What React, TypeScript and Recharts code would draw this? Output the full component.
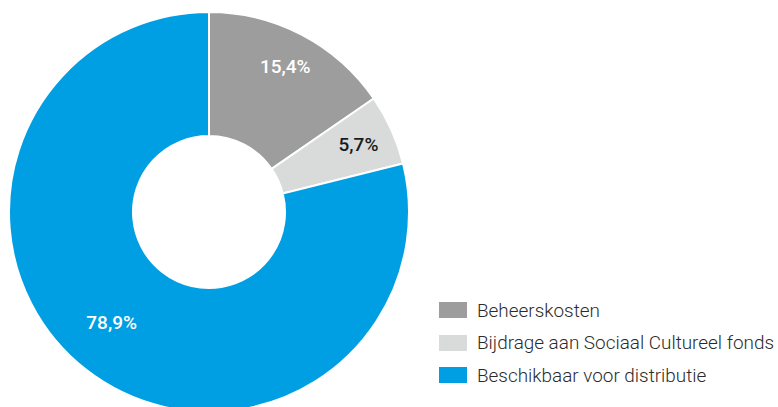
import { Pie, PieChart, Cell } from "recharts";

const categories = [
  "Beheerskosten",
  "Bijdrage aan Sociaal Cultureel fonds",
  "Beschikbaar voor distributie",
];
const shares = [15.4, 5.7, 78.9];
const colors = ["#9d9d9d", "#d9dada", "#009fe3"];
const labelColors = ["#ffffff", "#1a1a1a", "#ffffff"];

const data = categories.map((name, i) => ({ name, value: shares[i] }));

const RAD = Math.PI / 180;
const FONT = "Roboto, 'Open Sans', sans-serif";

function renderLabel(props: any) {
  const { cx, cy, midAngle, index, value } = props;
  // the big slice's label sits a bit closer to the hole and further round
  const r = index === 2 ? 147 : 164;
  const a = index === 2 ? midAngle - 3.5 : midAngle;
  const x = cx + r * Math.cos(-a * RAD);
  const y = cy + r * Math.sin(-a * RAD);
  return (
    <text
      x={x}
      y={y}
      fill={labelColors[index]}
      textAnchor="middle"
      dominantBaseline="central"
      fontSize={19}
      fontWeight={500}
      fontFamily={FONT}
    >
      {`${Number(value).toFixed(1).replace(".", ",")}%`}
    </text>
  );
}

function LegendBox() {
  return (
    <div
      style={{
        position: "absolute",
        left: 439,
        top: 294,
        fontFamily: FONT,
        fontSize: 18.9,
        fontWeight: 300,
        color: "#2b2b2b",
      }}
    >
      {categories.map((c, i) => (
        <div key={c} style={{ display: "flex", alignItems: "center", height: 32.5 }}>
          <span
            style={{
              display: "inline-block",
              width: 28,
              height: 16,
              background: colors[i],
              marginRight: 10,
            }}
          />
          <span style={{ whiteSpace: "nowrap" }}>{c}</span>
        </div>
      ))}
    </div>
  );
}

export default function App() {
  return (
    <div style={{ position: "absolute", left: 0, top: 0, width: 778, height: 407, background: "#fff" }}>
      <PieChart width={778} height={407} margin={{ top: 0, right: 0, bottom: 0, left: 0 }}>
        <Pie
          data={data}
          dataKey="value"
          nameKey="name"
          cx={209}
          cy={212}
          innerRadius={76}
          outerRadius={200}
          startAngle={90}
          endAngle={-270}
          stroke="#ffffff"
          strokeWidth={2}
          label={renderLabel}
          labelLine={false}
          isAnimationActive={false}
        >
          {data.map((d, i) => (
            <Cell key={d.name} fill={colors[i]} />
          ))}
        </Pie>
      </PieChart>
      <LegendBox />
    </div>
  );
}
